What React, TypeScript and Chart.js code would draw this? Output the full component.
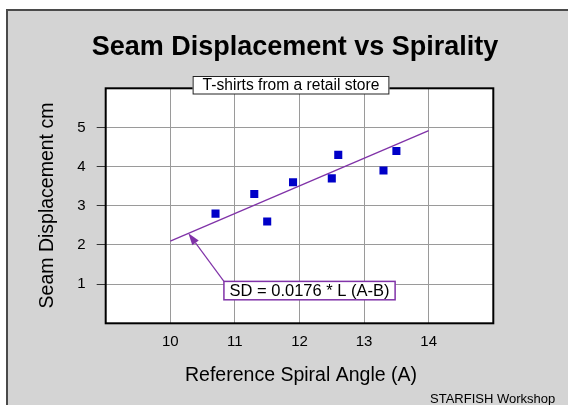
import React, { useEffect, useRef } from 'react';
import { Chart, registerables } from 'chart.js';

Chart.register(...registerables);

// ---- data ----
const angleA = [10.7, 11.3, 11.5, 11.9, 12.5, 12.6, 13.3, 13.5];
const seamSD = [2.8, 3.3, 2.6, 3.6, 3.7, 4.3, 3.9, 4.4];
const fitX = [10, 14];
const fitY = [2.1, 4.92];
const xTicks = [10, 11, 12, 13, 14];
const yTicks = [1, 2, 3, 4, 5];
const xRange = [9, 15];
const yRange = [0, 6];

const titleText = 'Seam Displacement vs Spirality';
const subtitleText = 'T-shirts from a retail store';
const xLabel = 'Reference Spiral Angle (A)';
const yLabel = 'Seam Displacement cm';
const footerText = 'STARFISH Workshop';
const eqText = 'SD = 0.0176 * L (A-B)';
// annotation anchors in data units
const eqArrowTip = [10.28, 2.3];
const eqBoxCorners = [10.83, 1.07, 13.48, 0.6];

const FONT = '"Liberation Sans", Arial, Helvetica, sans-serif';
const PURPLE = '#8033a8';
const GRID = '#9a9a9a';

const deco = {
  id: 'deco',
  beforeDraw(chart: any) {
    const { ctx, chartArea: a } = chart;
    ctx.save();
    ctx.fillStyle = '#ffffff';
    ctx.fillRect(a.left, a.top, a.right - a.left, a.bottom - a.top);
    ctx.restore();
  },
  beforeDatasetsDraw(chart: any) {
    const { ctx, chartArea: a } = chart;
    ctx.save();
    ctx.strokeStyle = '#000';
    ctx.lineWidth = 2;
    ctx.strokeRect(a.left, a.top, a.right - a.left, a.bottom - a.top);
    ctx.restore();
  },
  afterDraw(chart: any) {
    const { ctx, chartArea: a } = chart;
    const xs = chart.scales.x;
    const ys = chart.scales.y;
    ctx.save();
    ctx.fillStyle = '#000';

    // Title
    ctx.font = `bold 27px ${FONT}`;
    ctx.textAlign = 'center';
    ctx.textBaseline = 'alphabetic';
    ctx.fillText(titleText, 295, 55);

    // Subtitle box
    ctx.font = `15.6px ${FONT}`;
    const sw = ctx.measureText(subtitleText).width;
    const bx1 = 291 - sw / 2 - 10;
    const bx2 = 291 + sw / 2 + 10;
    ctx.fillStyle = '#fff';
    ctx.fillRect(bx1, 76, bx2 - bx1, 18);
    ctx.strokeStyle = '#222';
    ctx.lineWidth = 1;
    ctx.strokeRect(bx1 + 0.5, 76.5, bx2 - bx1 - 1, 17.5);
    ctx.fillStyle = '#000';
    ctx.textBaseline = 'alphabetic';
    ctx.fillText(subtitleText, 291, 90);

    // Axis titles
    ctx.font = `19.5px ${FONT}`;
    ctx.fillText(xLabel, 301, 381);
    ctx.save();
    ctx.translate(53, 205.5);
    ctx.rotate(-Math.PI / 2);
    ctx.fillText(yLabel, 0, 0);
    ctx.restore();

    // Footer
    ctx.font = `13px ${FONT}`;
    ctx.textAlign = 'left';
    ctx.fillText(footerText, 430, 403);

    // Equation annotation
    const ex1 = xs.getPixelForValue(eqBoxCorners[0]);
    const ey1 = ys.getPixelForValue(eqBoxCorners[1]);
    const ex2 = xs.getPixelForValue(eqBoxCorners[2]);
    const ey2 = ys.getPixelForValue(eqBoxCorners[3]);
    const tx = xs.getPixelForValue(eqArrowTip[0]);
    const ty = ys.getPixelForValue(eqArrowTip[1]);

    ctx.strokeStyle = PURPLE;
    ctx.fillStyle = PURPLE;
    ctx.lineWidth = 1.2;
    const ang = Math.atan2(ty - ey1, tx - ex1);
    const headLen = 12;
    const headW = 4;
    const bxh = tx - headLen * Math.cos(ang);
    const byh = ty - headLen * Math.sin(ang);
    ctx.beginPath();
    ctx.moveTo(ex1, ey1);
    ctx.lineTo(bxh, byh);
    ctx.stroke();
    ctx.beginPath();
    ctx.moveTo(tx, ty);
    ctx.lineTo(bxh + headW * Math.sin(ang), byh - headW * Math.cos(ang));
    ctx.lineTo(bxh - headW * Math.sin(ang), byh + headW * Math.cos(ang));
    ctx.closePath();
    ctx.fill();

    ctx.fillStyle = '#fff';
    ctx.fillRect(ex1, ey1, ex2 - ex1, ey2 - ey1);
    ctx.lineWidth = 1.5;
    ctx.strokeRect(ex1, ey1, ex2 - ex1, ey2 - ey1);
    ctx.fillStyle = '#000';
    ctx.font = `16.5px ${FONT}`;
    ctx.textAlign = 'center';
    ctx.textBaseline = 'middle';
    ctx.fillText(eqText, (ex1 + ex2) / 2, (ey1 + ey2) / 2 + 1);

    ctx.restore();
  },
};

export default function App() {
  const ref = useRef<HTMLCanvasElement | null>(null);

  useEffect(() => {
    if (!ref.current) return;
    const chart = new Chart(ref.current, {
      type: 'scatter',
      data: {
        datasets: [
          {
            type: 'line',
            label: 'fit',
            data: fitX.map((x, i) => ({ x, y: fitY[i] })),
            borderColor: PURPLE,
            borderWidth: 1.3,
            pointRadius: 0,
            fill: false,
            tension: 0,
            order: 1,
          } as any,
          {
            label: 'points',
            data: angleA.map((x, i) => ({ x, y: seamSD[i] })),
            pointStyle: 'rect',
            pointRadius: 5.7,
            backgroundColor: '#0000c8',
            borderColor: '#0000c8',
            borderWidth: 0,
            order: 0,
          },
        ],
      },
      options: {
        animation: false,
        responsive: false,
        maintainAspectRatio: false,
        events: [],
        layout: { padding: { top: 88.3, right: 75.7, left: 0, bottom: 0 } },
        plugins: {
          legend: { display: false },
          tooltip: { enabled: false },
          title: { display: false },
        },
        scales: {
          x: {
            type: 'linear',
            min: xRange[0],
            max: xRange[1],
            afterBuildTicks: (s: any) => {
              s.ticks = xTicks.map((v) => ({ value: v }));
            },
            afterFit: (s: any) => {
              s.height = 81.7;
            },
            grid: { color: GRID, lineWidth: 1, drawTicks: false },
            border: { display: false },
            ticks: {
              padding: 10,
              color: '#000',
              font: { family: FONT, size: 15 },
              maxRotation: 0,
            },
          },
          y: {
            type: 'linear',
            min: yRange[0],
            max: yRange[1],
            afterBuildTicks: (s: any) => {
              s.ticks = yTicks.map((v) => ({ value: v }));
            },
            afterFit: (s: any) => {
              s.width = 105.7;
            },
            grid: { color: GRID, lineWidth: 1, drawTicks: true, tickLength: 9, tickColor: '#333' },
            border: { display: false },
            ticks: {
              padding: 11,
              color: '#000',
              font: { family: FONT, size: 15 },
            },
          },
        },
      },
      plugins: [deco],
    });
    return () => chart.destroy();
  }, []);

  return (
    <div style={{ position: 'absolute', left: 0, top: 0, width: 569, height: 405, background: '#fff', overflow: 'hidden' }}>
      <div
        style={{
          position: 'absolute',
          left: 6,
          top: 9,
          right: 1,
          bottom: -4,
          background: '#d4d4d4',
          borderTop: '2px solid #4a4a4a',
          borderLeft: '2px solid #4a4a4a',
        }}
      />
      <canvas ref={ref} width={569} height={405} style={{ position: 'absolute', left: 0, top: 0, display: 'block' }} />
    </div>
  );
}
